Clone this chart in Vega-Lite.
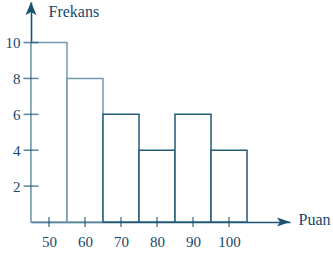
{
  "$schema": "https://vega.github.io/schema/vega-lite/v6.json",
  "width": 259,
  "height": 220,
  "autosize": {"type": "none"},
  "padding": {"left": 31, "top": 2, "right": 43, "bottom": 36},
  "background": "white",
  "config": {
    "view": {"stroke": null},
    "font": "Liberation Serif",
    "axis": {"grid": false, "ticks": false, "domainColor": "#1b5272", "domainWidth": 1.6, "labelColor": "#17476a", "titleColor": "#17476a", "labelFont": "Liberation Serif", "titleFont": "Liberation Serif", "labelFontSize": 15, "titleFontSize": 16, "titleFontWeight": "normal", "zindex": 1}
  },
  "layer": [
    {
      "data": {"values": [
        {"start": 45, "end": 55, "freq": 10, "grp": "a"},
        {"start": 55, "end": 65, "freq": 8, "grp": "a"},
        {"start": 65, "end": 75, "freq": 6, "grp": "b"},
        {"start": 75, "end": 85, "freq": 4, "grp": "b"},
        {"start": 85, "end": 95, "freq": 6, "grp": "b"},
        {"start": 95, "end": 105, "freq": 4, "grp": "b"}
      ]},
      "mark": {"type": "rect", "fill": "white", "strokeWidth": 1.5},
      "encoding": {
        "x": {"field": "start", "type": "quantitative", "scale": {"domain": [45, 116.94], "nice": false, "zero": false},
          "axis": {"values": [50, 60, 70, 80, 90, 100], "labelPadding": 12, "title": "Puan", "titleAngle": 0, "titleAlign": "left", "titleBaseline": "middle", "titleX": 267, "titleY": -3}},
        "x2": {"field": "end"},
        "y": {"field": "freq", "type": "quantitative", "scale": {"domain": [0, 12.26], "nice": false},
          "axis": {"values": [2, 4, 6, 8, 10], "labelPadding": 11, "title": "Frekans", "titleAngle": 0, "titleAlign": "left", "titleBaseline": "middle", "titleX": 17, "titleY": 9}},
        "y2": {"datum": 0},
        "stroke": {"field": "grp", "type": "nominal", "scale": {"domain": ["a", "b"], "range": ["#7299ad", "#245a78"]}, "legend": null}
      }
    },
    {
      "data": {"values": [{"v": 2}, {"v": 4}, {"v": 6}, {"v": 8}, {"v": 10}]},
      "mark": {"type": "tick", "orient": "horizontal", "size": 15, "thickness": 1.5, "color": "#1b5272"},
      "encoding": {"y": {"field": "v", "type": "quantitative"}, "x": {"datum": 45}}
    },
    {
      "data": {"values": [{"v": 50}, {"v": 60}, {"v": 70}, {"v": 80}, {"v": 90}, {"v": 100}]},
      "mark": {"type": "tick", "orient": "vertical", "size": 10, "thickness": 1.5, "color": "#1b5272"},
      "encoding": {"x": {"field": "v", "type": "quantitative"}, "y": {"datum": 0}}
    },
    {
      "data": {"values": [{"px": 45, "py": 12.26}]},
      "mark": {"type": "point", "filled": true, "opacity": 1, "color": "#1b5272", "size": 121, "shape": "M0,0L1,2.4L0,1.8L-1,2.4Z"},
      "encoding": {"x": {"field": "px", "type": "quantitative"}, "y": {"field": "py", "type": "quantitative"}}
    },
    {
      "data": {"values": [{"px": 116.94, "py": 0}]},
      "mark": {"type": "point", "filled": true, "opacity": 1, "color": "#1b5272", "size": 100, "shape": "M0,0L-2.6,-0.9L-2,0L-2.6,0.9Z"},
      "encoding": {"x": {"field": "px", "type": "quantitative"}, "y": {"field": "py", "type": "quantitative"}}
    }
  ]
}
